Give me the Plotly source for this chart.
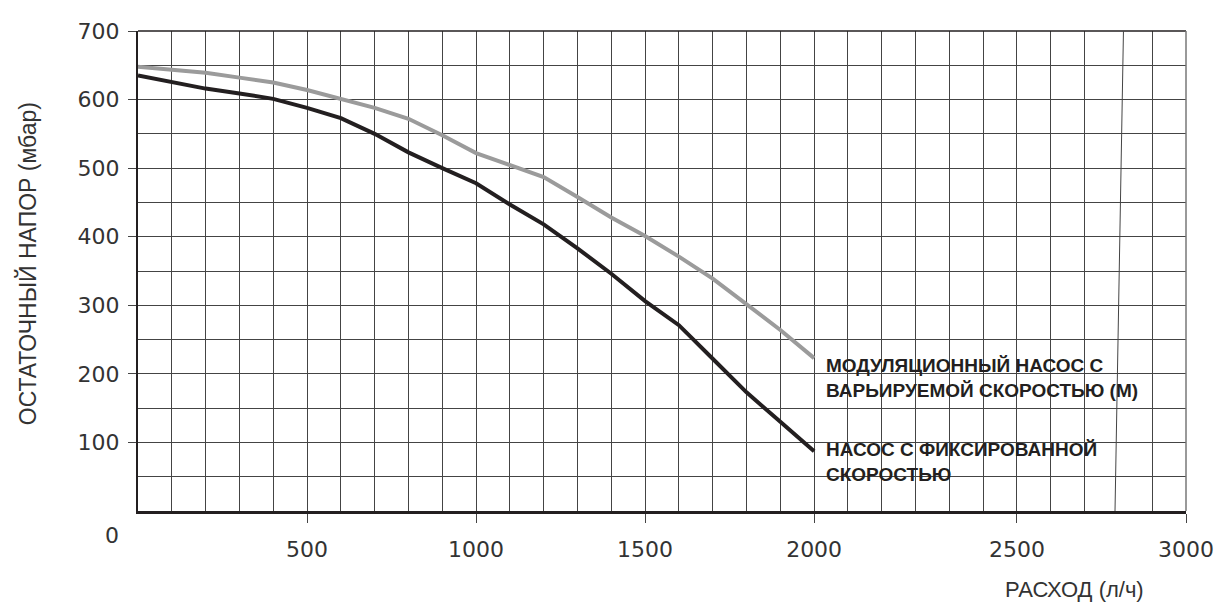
import plotly.graph_objects as go

# ---- data ----
flow = [0, 100, 200, 300, 400, 500, 600, 700, 800, 900, 1000,
        1100, 1200, 1300, 1400, 1500, 1600, 1700, 1800, 1900, 2000]
head_modulating = [648, 644, 639, 632, 625, 614, 601, 588, 572, 548, 522,
                   504, 487, 458, 428, 401, 371, 339, 302, 264, 223]
head_fixed = [635, 626, 616, 609, 601, 588, 573, 550, 523, 500, 478,
              447, 418, 383, 346, 306, 271, 222, 173, 130, 87]

name_modulating = "МОДУЛЯЦИОННЫЙ НАСОС С<br>ВАРЬИРУЕМОЙ СКОРОСТЬЮ (М)"
name_fixed = "НАСОС С ФИКСИРОВАННОЙ<br>СКОРОСТЬЮ"

# x axis of the original drawing is not uniform past 2000 l/h:
# label positions on the drawn grid (100 l/h per cell) and their labels
x_tick_pos = [500, 1000, 1500, 2000, 2600, 3100]
x_tick_text = ["500", "1000", "1500", "2000", "2500", "3000"]
x_grid_pos = [v for v in range(100, 3100, 100) if v != 2900]
y_tick_vals = [100, 200, 300, 400, 500, 600, 700]

x_title = "РАСХОД (л/ч)"
y_title = "ОСТАТОЧНЫЙ НАПОР (мбар)"

BLACK = "#231f20"
GRAY = "#9b9b9b"
GRID = "#444444"

fig = go.Figure()
fig.add_trace(go.Scatter(x=flow, y=head_modulating, mode="lines",
                         line=dict(color=GRAY, width=4), showlegend=False,
                         hoverinfo="skip"))
fig.add_trace(go.Scatter(x=flow, y=head_fixed, mode="lines",
                         line=dict(color=BLACK, width=4), showlegend=False,
                         hoverinfo="skip"))

tick_font = dict(family="DejaVu Sans", size=22, color="#333333")
label_font = dict(family="Liberation Sans, Arial", size=19, color=BLACK)

fig.update_layout(
    width=1208, height=598,
    margin=dict(l=130, r=30, t=23, b=95, autoexpand=False),
    paper_bgcolor="white", plot_bgcolor="white",
    xaxis=dict(
        range=[0, 3100], tickmode="array", tickvals=x_tick_pos, ticktext=x_tick_text,
        ticks="outside", ticklen=9, tickcolor=GRID, tickwidth=1,
        tickfont=tick_font, ticklabelstandoff=8, automargin=False,
        showgrid=True, gridcolor=GRID, gridwidth=1,
        minor=dict(tickmode="array", tickvals=x_grid_pos, showgrid=True,
                   gridcolor=GRID, gridwidth=1, ticks=""),
        showline=True, linecolor=BLACK, linewidth=2.5, zeroline=False,
    ),
    yaxis=dict(
        range=[0, 700], tickmode="array", tickvals=y_tick_vals,
        ticks="outside", ticklen=8, tickcolor=GRID, tickwidth=1,
        tickfont=tick_font, ticklabelstandoff=4, automargin=False,
        showgrid=True, gridcolor=GRID, gridwidth=1,
        minor=dict(dtick=50, tick0=50, showgrid=True, gridcolor=GRID,
                   gridwidth=1, ticks=""),
        showline=True, linecolor=BLACK, linewidth=2, zeroline=False,
    ),
    shapes=[
        dict(type="line", xref="paper", yref="paper", x0=0, x1=1, y0=1, y1=1,
             line=dict(color=BLACK, width=1.5)),
        dict(type="line", xref="paper", yref="paper", x0=1, x1=1, y0=0, y1=1,
             line=dict(color="#777777", width=1.5)),
        # slanted grid line of the original drawing
        dict(type="line", xref="x", yref="y", x0=2915, x1=2890, y0=700, y1=0,
             line=dict(color=GRID, width=1)),
    ],
)

annotations = [
    dict(xref="x", yref="y", x=flow[-1], y=head_modulating[-1], text=name_modulating,
         xanchor="left", yanchor="middle", xshift=10, yshift=-20, align="left",
         showarrow=False, font=dict(label_font, weight="bold")),
    dict(xref="x", yref="y", x=flow[-1], y=head_fixed[-1], text=name_fixed,
         xanchor="left", yanchor="middle", xshift=10, yshift=-11, align="left",
         showarrow=False, font=dict(label_font, weight="bold")),
    dict(xref="x", yref="y", x=0, y=0, text="0", xshift=-26, yshift=-24,
         showarrow=False, font=tick_font),
    dict(xref="paper", yref="paper", x=0.894, y=-0.164, text=x_title,
         xanchor="center", yanchor="middle", showarrow=False,
         font=dict(family="Liberation Sans, Arial", size=22, color="#333333")),
    dict(xref="paper", yref="paper", x=-0.106, y=0.516, text=y_title, textangle=-90,
         xanchor="center", yanchor="middle", showarrow=False,
         font=dict(family="Liberation Sans, Arial", size=23, color="#333333")),
]
fig.update_layout(annotations=annotations)

fig.write_html("out.html")
